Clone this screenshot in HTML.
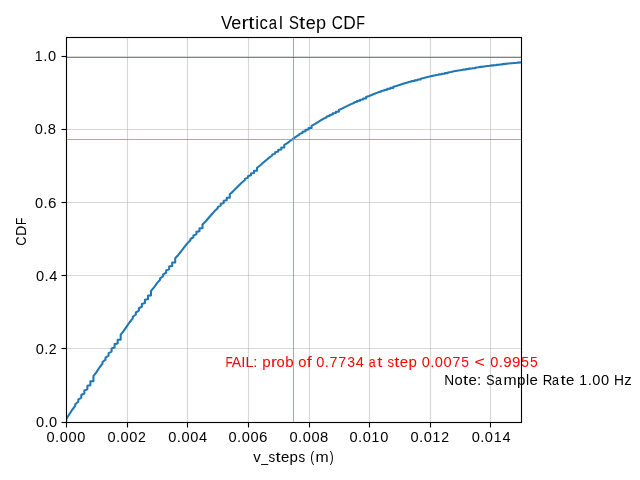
<!DOCTYPE html>
<html><head><meta charset="utf-8"><title>Vertical Step CDF</title><style>
html,body{margin:0;padding:0;background:#fff;overflow:hidden;}
svg{display:block;will-change:transform;}
text{font-family:"Liberation Sans",sans-serif;}
</style></head><body>
<svg width="640" height="480" viewBox="0 0 640 480">
<rect width="640" height="480" fill="#fff"/>
<g stroke="rgba(176,176,176,0.5)" stroke-width="1.11">
<line x1="127.5" y1="37.5" x2="127.5" y2="422.5"/>
<line x1="187.5" y1="37.5" x2="187.5" y2="422.5"/>
<line x1="248.5" y1="37.5" x2="248.5" y2="422.5"/>
<line x1="309.5" y1="37.5" x2="309.5" y2="422.5"/>
<line x1="369.5" y1="37.5" x2="369.5" y2="422.5"/>
<line x1="430.5" y1="37.5" x2="430.5" y2="422.5"/>
<line x1="490.5" y1="37.5" x2="490.5" y2="422.5"/>
<line x1="66.5" y1="348.5" x2="521.5" y2="348.5"/>
<line x1="66.5" y1="275.5" x2="521.5" y2="275.5"/>
<line x1="66.5" y1="202.5" x2="521.5" y2="202.5"/>
<line x1="66.5" y1="129.5" x2="521.5" y2="129.5"/>
<line x1="66.5" y1="56.5" x2="521.5" y2="56.5"/>
</g>
<clipPath id="ax"><rect x="66.5" y="37.5" width="455" height="385"/></clipPath>
<polyline clip-path="url(#ax)" points="66.15,421.60 66.15,419.19 69.18,414.47 69.18,414.47 72.21,409.74 72.21,409.74 75.24,405.85 75.24,404.19 78.27,401.72 78.27,399.60 81.30,397.59 81.30,395.00 84.33,393.47 84.33,390.42 87.36,389.36 87.36,385.84 90.39,385.25 90.39,381.27 93.42,381.14 93.42,376.08 96.45,372.16 96.45,372.16 99.48,367.51 99.48,367.51 102.51,363.68 102.51,362.06 105.54,359.63 105.54,357.55 108.57,355.59 108.57,353.06 111.60,351.57 111.60,348.59 114.63,347.56 114.63,344.14 117.66,343.57 117.66,339.71 120.69,339.59 120.69,334.69 123.72,330.91 123.72,330.91 126.75,326.43 126.75,326.43 129.78,321.97 129.78,321.97 132.81,318.32 132.81,316.77 135.84,314.46 135.84,312.49 138.87,310.62 138.87,308.23 141.90,306.81 141.90,303.99 144.93,303.01 144.93,299.79 147.96,299.24 147.96,295.62 150.99,295.50 150.99,290.90 154.02,287.36 154.02,287.36 157.05,283.18 157.05,283.18 160.08,279.76 160.08,278.31 163.11,276.25 163.11,274.33 166.14,272.77 166.14,270.38 169.17,269.32 169.17,266.46 172.20,265.89 172.20,262.58 175.23,262.49 175.23,258.21 178.26,254.92 178.26,254.92 181.29,251.03 181.29,251.03 184.32,247.19 184.32,247.19 187.35,243.39 187.35,243.39 190.38,240.28 190.38,238.97 193.41,237.25 193.41,235.40 196.44,234.25 196.44,231.87 199.47,231.27 199.47,228.38 202.50,228.31 202.50,224.44 205.53,221.47 205.53,221.47 208.56,217.97 208.56,217.97 211.59,214.52 211.59,214.52 214.62,211.10 214.62,211.10 217.65,208.32 217.65,207.15 220.68,205.62 220.68,203.97 223.71,202.93 223.71,200.82 226.74,200.28 226.74,197.72 229.77,197.66 229.77,194.23 232.80,191.60 232.80,191.60 235.83,188.51 235.83,188.51 238.86,185.47 238.86,185.47 241.89,182.47 241.89,182.47 244.92,180.03 244.92,179.01 247.95,177.66 247.95,176.22 250.98,175.32 250.98,173.48 254.01,173.01 254.01,170.78 257.04,170.72 257.04,167.75 260.07,165.47 260.07,165.47 263.10,162.79 263.10,162.79 266.13,160.17 266.13,160.17 269.16,157.59 269.16,157.59 272.19,155.49 272.19,154.61 275.22,153.46 275.22,152.22 278.25,151.45 278.25,149.88 281.28,149.47 281.28,147.57 284.31,147.52 284.31,144.99 287.34,143.05 287.34,143.05 290.37,140.79 290.37,140.79 293.40,138.56 293.40,138.56 296.43,136.38 296.43,136.38 299.46,134.62 299.46,133.88 302.49,132.90 302.49,131.87 305.52,131.22 305.52,129.90 308.55,129.56 308.55,127.97 311.58,127.92 311.58,125.81 314.61,124.19 314.61,124.19 317.64,122.31 317.64,122.31 320.67,120.46 320.67,120.46 323.70,118.65 323.70,118.65 326.73,117.19 326.73,116.58 329.76,115.78 329.76,114.92 332.79,114.39 332.79,113.30 335.82,113.02 335.82,111.71 338.85,111.68 338.85,109.94 341.88,108.62 341.88,108.62 344.91,107.08 344.91,107.08 347.94,105.57 347.94,105.57 350.97,104.10 350.97,104.10 354.00,102.91 354.00,102.41 357.03,101.76 357.03,101.07 360.06,100.63 360.06,99.76 363.09,99.53 363.09,98.47 366.12,98.44 366.12,97.05 369.15,95.98 369.15,95.98 372.18,94.74 372.18,94.74 375.21,93.54 375.21,93.54 378.24,92.36 378.24,92.36 381.27,91.41 381.27,91.01 384.30,90.49 384.30,89.94 387.33,89.60 387.33,88.90 390.36,88.72 390.36,87.88 393.39,87.86 393.39,86.75 396.42,85.91 396.42,85.91 399.45,84.93 399.45,84.93 402.48,83.98 402.48,83.98 405.51,83.05 405.51,83.05 408.54,82.31 408.54,82.00 411.57,81.59 411.57,81.16 414.60,80.89 414.60,80.34 417.63,80.20 417.63,79.55 420.66,79.53 420.66,78.67 423.69,78.01 423.69,78.01 426.72,77.25 426.72,77.25 429.75,76.52 429.75,76.52 432.78,75.80 432.78,75.80 435.81,75.23 435.81,74.99 438.84,74.67 438.84,74.34 441.87,74.13 441.87,73.71 444.90,73.60 444.90,73.10 447.93,73.09 447.93,72.43 450.96,71.93 450.96,71.93 453.99,71.35 453.99,71.35 457.02,70.79 457.02,70.79 460.05,70.24 460.05,70.24 463.08,69.81 463.08,69.62 466.11,69.39 466.11,69.13 469.14,68.98 469.14,68.66 472.17,68.58 472.17,68.20 475.20,68.19 475.20,67.69 478.23,67.32 478.23,67.32 481.26,66.88 481.26,66.88 484.29,66.46 484.29,66.46 487.32,66.05 487.32,66.05 490.35,65.73 490.35,65.59 493.38,65.41 493.38,65.23 496.41,65.11 496.41,64.87 499.44,64.81 499.44,64.53 502.47,64.52 502.47,64.16 505.50,63.88 505.50,63.88 508.53,63.56 508.53,63.56 511.56,63.25 511.56,63.25 514.59,62.95 514.59,62.95 517.62,62.71 517.62,62.61 520.65,62.48 520.65,62.34 523.68,62.25 523.68,62.08" fill="none" stroke="#1f77b4" stroke-width="2.083" stroke-linejoin="round" stroke-linecap="square"/>
<line x1="293.5" y1="37.5" x2="293.5" y2="422.5" stroke="rgba(0,191,191,0.7)" stroke-width="1"/>
<line x1="66.5" y1="139.5" x2="521.5" y2="139.5" stroke="rgba(0,191,191,0.7)" stroke-width="1"/>
<line x1="66.5" y1="57.5" x2="521.5" y2="57.5" stroke="rgba(255,0,0,0.7)" stroke-width="1"/>
<text transform="translate(221.01,29.00)" y="0" font-size="18" fill="#000"><tspan x="0.06" textLength="11.28" lengthAdjust="spacingAndGlyphs">V</tspan><tspan x="10.28" textLength="10.01" lengthAdjust="spacingAndGlyphs">e</tspan><tspan x="20.47" textLength="7.11" lengthAdjust="spacingAndGlyphs">r</tspan><tspan x="27.36" textLength="6.19" lengthAdjust="spacingAndGlyphs">t</tspan><tspan x="34.18" textLength="3.79" lengthAdjust="spacingAndGlyphs">i</tspan><tspan x="38.58" textLength="8.36" lengthAdjust="spacingAndGlyphs">c</tspan><tspan x="47.86" textLength="8.34" lengthAdjust="spacingAndGlyphs">a</tspan><tspan x="58.05" textLength="3.79" lengthAdjust="spacingAndGlyphs">l</tspan> <tspan x="67.92" textLength="9.91" lengthAdjust="spacingAndGlyphs">S</tspan><tspan x="78.11" textLength="6.19" lengthAdjust="spacingAndGlyphs">t</tspan><tspan x="84.65" textLength="10.01" lengthAdjust="spacingAndGlyphs">e</tspan><tspan x="95.09" textLength="10.08" lengthAdjust="spacingAndGlyphs">p</tspan> <tspan x="110.65" textLength="11.17" lengthAdjust="spacingAndGlyphs">C</tspan><tspan x="122.22" textLength="12.45" lengthAdjust="spacingAndGlyphs">D</tspan><tspan x="135.34" textLength="8.73" lengthAdjust="spacingAndGlyphs">F</tspan></text>
<text transform="translate(252.94,462.00)" y="0" font-size="14" fill="#000"><tspan x="0.36" textLength="7.49" lengthAdjust="spacingAndGlyphs">v</tspan><tspan x="8.30" textLength="6.89" lengthAdjust="spacingAndGlyphs">_</tspan><tspan x="15.63" textLength="6.66" lengthAdjust="spacingAndGlyphs">s</tspan><tspan x="22.47" textLength="5.16" lengthAdjust="spacingAndGlyphs">t</tspan><tspan x="28.00" textLength="8.34" lengthAdjust="spacingAndGlyphs">e</tspan><tspan x="36.66" textLength="8.40" lengthAdjust="spacingAndGlyphs">p</tspan><tspan x="45.63" textLength="6.66" lengthAdjust="spacingAndGlyphs">s</tspan> <tspan x="57.22" textLength="3.91" lengthAdjust="spacingAndGlyphs">(</tspan><tspan x="62.46" textLength="13.18" lengthAdjust="spacingAndGlyphs">m</tspan><tspan x="76.79" textLength="3.91" lengthAdjust="spacingAndGlyphs">)</tspan></text>
<text transform="translate(25.50,245.85) rotate(-90)" y="0" font-size="14" fill="#000"><tspan x="0.13" textLength="9.31" lengthAdjust="spacingAndGlyphs">C</tspan><tspan x="9.93" textLength="10.38" lengthAdjust="spacingAndGlyphs">D</tspan><tspan x="20.89" textLength="7.27" lengthAdjust="spacingAndGlyphs">F</tspan></text>
<text transform="translate(225.00,367.00)" y="0" font-size="14" fill="#ff0000"><tspan x="0.39" textLength="7.27" lengthAdjust="spacingAndGlyphs">F</tspan><tspan x="6.83" textLength="9.33" lengthAdjust="spacingAndGlyphs">A</tspan><tspan x="16.26" textLength="4.08" lengthAdjust="spacingAndGlyphs">I</tspan><tspan x="20.44" textLength="7.95" lengthAdjust="spacingAndGlyphs">L</tspan><tspan x="28.26" textLength="4.18" lengthAdjust="spacingAndGlyphs">:</tspan> <tspan x="37.29" textLength="8.40" lengthAdjust="spacingAndGlyphs">p</tspan><tspan x="45.95" textLength="5.93" lengthAdjust="spacingAndGlyphs">r</tspan><tspan x="51.52" textLength="8.21" lengthAdjust="spacingAndGlyphs">o</tspan><tspan x="60.16" textLength="8.40" lengthAdjust="spacingAndGlyphs">b</tspan> <tspan x="73.27" textLength="8.21" lengthAdjust="spacingAndGlyphs">o</tspan><tspan x="81.69" textLength="5.07" lengthAdjust="spacingAndGlyphs">f</tspan> <tspan x="91.34" textLength="8.14" lengthAdjust="spacingAndGlyphs">0</tspan><tspan x="99.86" textLength="4.18" lengthAdjust="spacingAndGlyphs">.</tspan><tspan x="104.53" textLength="7.96" lengthAdjust="spacingAndGlyphs">7</tspan><tspan x="113.28" textLength="7.96" lengthAdjust="spacingAndGlyphs">7</tspan><tspan x="122.15" textLength="7.82" lengthAdjust="spacingAndGlyphs">3</tspan><tspan x="130.72" textLength="8.14" lengthAdjust="spacingAndGlyphs">4</tspan> <tspan x="143.80" textLength="6.95" lengthAdjust="spacingAndGlyphs">a</tspan><tspan x="152.22" textLength="5.16" lengthAdjust="spacingAndGlyphs">t</tspan> <tspan x="162.38" textLength="6.66" lengthAdjust="spacingAndGlyphs">s</tspan><tspan x="169.22" textLength="5.16" lengthAdjust="spacingAndGlyphs">t</tspan><tspan x="174.75" textLength="8.34" lengthAdjust="spacingAndGlyphs">e</tspan><tspan x="183.41" textLength="8.40" lengthAdjust="spacingAndGlyphs">p</tspan> <tspan x="196.72" textLength="8.14" lengthAdjust="spacingAndGlyphs">0</tspan><tspan x="205.24" textLength="4.18" lengthAdjust="spacingAndGlyphs">.</tspan><tspan x="209.84" textLength="8.14" lengthAdjust="spacingAndGlyphs">0</tspan><tspan x="218.59" textLength="8.14" lengthAdjust="spacingAndGlyphs">0</tspan><tspan x="227.41" textLength="7.96" lengthAdjust="spacingAndGlyphs">7</tspan><tspan x="236.27" textLength="7.68" lengthAdjust="spacingAndGlyphs">5</tspan> <tspan x="249.46" textLength="10.45" lengthAdjust="spacingAndGlyphs">&lt;</tspan> <tspan x="265.22" textLength="8.14" lengthAdjust="spacingAndGlyphs">0</tspan><tspan x="273.74" textLength="4.18" lengthAdjust="spacingAndGlyphs">.</tspan><tspan x="278.17" textLength="8.41" lengthAdjust="spacingAndGlyphs">9</tspan><tspan x="287.04" textLength="8.41" lengthAdjust="spacingAndGlyphs">9</tspan><tspan x="296.27" textLength="7.68" lengthAdjust="spacingAndGlyphs">5</tspan><tspan x="305.02" textLength="7.68" lengthAdjust="spacingAndGlyphs">5</tspan></text>
<text transform="translate(444.00,385.00)" y="0" font-size="14" fill="#000"><tspan x="0.24" textLength="9.91" lengthAdjust="spacingAndGlyphs">N</tspan><tspan x="10.52" textLength="8.21" lengthAdjust="spacingAndGlyphs">o</tspan><tspan x="18.97" textLength="5.16" lengthAdjust="spacingAndGlyphs">t</tspan><tspan x="24.50" textLength="8.34" lengthAdjust="spacingAndGlyphs">e</tspan><tspan x="33.13" textLength="4.18" lengthAdjust="spacingAndGlyphs">:</tspan> <tspan x="42.23" textLength="8.26" lengthAdjust="spacingAndGlyphs">S</tspan><tspan x="50.93" textLength="6.95" lengthAdjust="spacingAndGlyphs">a</tspan><tspan x="59.46" textLength="13.18" lengthAdjust="spacingAndGlyphs">m</tspan><tspan x="73.04" textLength="8.40" lengthAdjust="spacingAndGlyphs">p</tspan><tspan x="81.98" textLength="3.15" lengthAdjust="spacingAndGlyphs">l</tspan><tspan x="85.63" textLength="8.34" lengthAdjust="spacingAndGlyphs">e</tspan> <tspan x="98.65" textLength="9.59" lengthAdjust="spacingAndGlyphs">R</tspan><tspan x="108.05" textLength="6.95" lengthAdjust="spacingAndGlyphs">a</tspan><tspan x="116.47" textLength="5.16" lengthAdjust="spacingAndGlyphs">t</tspan><tspan x="122.00" textLength="8.34" lengthAdjust="spacingAndGlyphs">e</tspan> <tspan x="135.21" textLength="7.78" lengthAdjust="spacingAndGlyphs">1</tspan><tspan x="143.74" textLength="4.18" lengthAdjust="spacingAndGlyphs">.</tspan><tspan x="148.34" textLength="8.14" lengthAdjust="spacingAndGlyphs">0</tspan><tspan x="157.09" textLength="8.14" lengthAdjust="spacingAndGlyphs">0</tspan> <tspan x="170.10" textLength="9.98" lengthAdjust="spacingAndGlyphs">H</tspan><tspan x="180.24" textLength="7.44" lengthAdjust="spacingAndGlyphs">z</tspan></text>
<text transform="translate(46.16,442.00)" y="0" font-size="14" fill="#000"><tspan x="0.34" textLength="8.14" lengthAdjust="spacingAndGlyphs">0</tspan><tspan x="8.86" textLength="4.18" lengthAdjust="spacingAndGlyphs">.</tspan><tspan x="13.47" textLength="8.14" lengthAdjust="spacingAndGlyphs">0</tspan><tspan x="22.22" textLength="8.14" lengthAdjust="spacingAndGlyphs">0</tspan><tspan x="30.97" textLength="8.14" lengthAdjust="spacingAndGlyphs">0</tspan></text>
<text transform="translate(107.06,442.00)" y="0" font-size="14" fill="#000"><tspan x="0.34" textLength="8.14" lengthAdjust="spacingAndGlyphs">0</tspan><tspan x="8.86" textLength="4.18" lengthAdjust="spacingAndGlyphs">.</tspan><tspan x="13.47" textLength="8.14" lengthAdjust="spacingAndGlyphs">0</tspan><tspan x="22.22" textLength="8.14" lengthAdjust="spacingAndGlyphs">0</tspan><tspan x="30.93" textLength="7.85" lengthAdjust="spacingAndGlyphs">2</tspan></text>
<text transform="translate(167.96,442.00)" y="0" font-size="14" fill="#000"><tspan x="0.34" textLength="8.14" lengthAdjust="spacingAndGlyphs">0</tspan><tspan x="8.86" textLength="4.18" lengthAdjust="spacingAndGlyphs">.</tspan><tspan x="13.47" textLength="8.14" lengthAdjust="spacingAndGlyphs">0</tspan><tspan x="22.22" textLength="8.14" lengthAdjust="spacingAndGlyphs">0</tspan><tspan x="30.97" textLength="8.14" lengthAdjust="spacingAndGlyphs">4</tspan></text>
<text transform="translate(228.20,442.00)" y="0" font-size="14" fill="#000"><tspan x="0.34" textLength="8.14" lengthAdjust="spacingAndGlyphs">0</tspan><tspan x="8.86" textLength="4.18" lengthAdjust="spacingAndGlyphs">.</tspan><tspan x="13.47" textLength="8.14" lengthAdjust="spacingAndGlyphs">0</tspan><tspan x="22.22" textLength="8.14" lengthAdjust="spacingAndGlyphs">0</tspan><tspan x="30.83" textLength="8.43" lengthAdjust="spacingAndGlyphs">6</tspan></text>
<text transform="translate(289.20,442.00)" y="0" font-size="14" fill="#000"><tspan x="0.34" textLength="8.14" lengthAdjust="spacingAndGlyphs">0</tspan><tspan x="8.86" textLength="4.18" lengthAdjust="spacingAndGlyphs">.</tspan><tspan x="13.47" textLength="8.14" lengthAdjust="spacingAndGlyphs">0</tspan><tspan x="22.22" textLength="8.14" lengthAdjust="spacingAndGlyphs">0</tspan><tspan x="30.92" textLength="8.23" lengthAdjust="spacingAndGlyphs">8</tspan></text>
<text transform="translate(349.20,442.00)" y="0" font-size="14" fill="#000"><tspan x="0.34" textLength="8.14" lengthAdjust="spacingAndGlyphs">0</tspan><tspan x="8.86" textLength="4.18" lengthAdjust="spacingAndGlyphs">.</tspan><tspan x="13.47" textLength="8.14" lengthAdjust="spacingAndGlyphs">0</tspan><tspan x="22.34" textLength="7.78" lengthAdjust="spacingAndGlyphs">1</tspan><tspan x="31.09" textLength="8.14" lengthAdjust="spacingAndGlyphs">0</tspan></text>
<text transform="translate(410.20,442.00)" y="0" font-size="14" fill="#000"><tspan x="0.34" textLength="8.14" lengthAdjust="spacingAndGlyphs">0</tspan><tspan x="8.86" textLength="4.18" lengthAdjust="spacingAndGlyphs">.</tspan><tspan x="13.47" textLength="8.14" lengthAdjust="spacingAndGlyphs">0</tspan><tspan x="22.34" textLength="7.78" lengthAdjust="spacingAndGlyphs">1</tspan><tspan x="31.06" textLength="7.85" lengthAdjust="spacingAndGlyphs">2</tspan></text>
<text transform="translate(471.30,442.00)" y="0" font-size="14" fill="#000"><tspan x="0.34" textLength="8.14" lengthAdjust="spacingAndGlyphs">0</tspan><tspan x="8.86" textLength="4.18" lengthAdjust="spacingAndGlyphs">.</tspan><tspan x="13.47" textLength="8.14" lengthAdjust="spacingAndGlyphs">0</tspan><tspan x="22.34" textLength="7.78" lengthAdjust="spacingAndGlyphs">1</tspan><tspan x="31.09" textLength="8.14" lengthAdjust="spacingAndGlyphs">4</tspan></text>
<text transform="translate(35.55,427.00)" y="0" font-size="14" fill="#000"><tspan x="0.34" textLength="8.14" lengthAdjust="spacingAndGlyphs">0</tspan><tspan x="8.86" textLength="4.18" lengthAdjust="spacingAndGlyphs">.</tspan><tspan x="13.47" textLength="8.14" lengthAdjust="spacingAndGlyphs">0</tspan></text>
<text transform="translate(35.45,354.00)" y="0" font-size="14" fill="#000"><tspan x="0.34" textLength="8.14" lengthAdjust="spacingAndGlyphs">0</tspan><tspan x="8.86" textLength="4.18" lengthAdjust="spacingAndGlyphs">.</tspan><tspan x="13.43" textLength="7.85" lengthAdjust="spacingAndGlyphs">2</tspan></text>
<text transform="translate(35.66,281.00)" y="0" font-size="14" fill="#000"><tspan x="0.34" textLength="8.14" lengthAdjust="spacingAndGlyphs">0</tspan><tspan x="8.86" textLength="4.18" lengthAdjust="spacingAndGlyphs">.</tspan><tspan x="13.47" textLength="8.14" lengthAdjust="spacingAndGlyphs">4</tspan></text>
<text transform="translate(34.73,208.00)" y="0" font-size="14" fill="#000"><tspan x="0.34" textLength="8.14" lengthAdjust="spacingAndGlyphs">0</tspan><tspan x="8.86" textLength="4.18" lengthAdjust="spacingAndGlyphs">.</tspan><tspan x="13.33" textLength="8.43" lengthAdjust="spacingAndGlyphs">6</tspan></text>
<text transform="translate(34.43,134.00)" y="0" font-size="14" fill="#000"><tspan x="0.34" textLength="8.14" lengthAdjust="spacingAndGlyphs">0</tspan><tspan x="8.86" textLength="4.18" lengthAdjust="spacingAndGlyphs">.</tspan><tspan x="13.42" textLength="8.23" lengthAdjust="spacingAndGlyphs">8</tspan></text>
<text transform="translate(34.33,61.00)" y="0" font-size="14" fill="#000"><tspan x="0.46" textLength="7.78" lengthAdjust="spacingAndGlyphs">1</tspan><tspan x="8.99" textLength="4.18" lengthAdjust="spacingAndGlyphs">.</tspan><tspan x="13.59" textLength="8.14" lengthAdjust="spacingAndGlyphs">0</tspan></text>
<rect x="66.5" y="37.5" width="455" height="385" fill="none" stroke="#000" stroke-width="1.11" stroke-linejoin="miter"/>
<g stroke="#000" stroke-width="1.11">
<line x1="66.5" y1="422.5" x2="66.5" y2="427.5"/>
<line x1="127.5" y1="422.5" x2="127.5" y2="427.5"/>
<line x1="187.5" y1="422.5" x2="187.5" y2="427.5"/>
<line x1="248.5" y1="422.5" x2="248.5" y2="427.5"/>
<line x1="309.5" y1="422.5" x2="309.5" y2="427.5"/>
<line x1="369.5" y1="422.5" x2="369.5" y2="427.5"/>
<line x1="430.5" y1="422.5" x2="430.5" y2="427.5"/>
<line x1="490.5" y1="422.5" x2="490.5" y2="427.5"/>
<line x1="61.5" y1="422.5" x2="66.5" y2="422.5"/>
<line x1="61.5" y1="348.5" x2="66.5" y2="348.5"/>
<line x1="61.5" y1="275.5" x2="66.5" y2="275.5"/>
<line x1="61.5" y1="202.5" x2="66.5" y2="202.5"/>
<line x1="61.5" y1="129.5" x2="66.5" y2="129.5"/>
<line x1="61.5" y1="56.5" x2="66.5" y2="56.5"/>
</g>
</svg>
</body></html>
